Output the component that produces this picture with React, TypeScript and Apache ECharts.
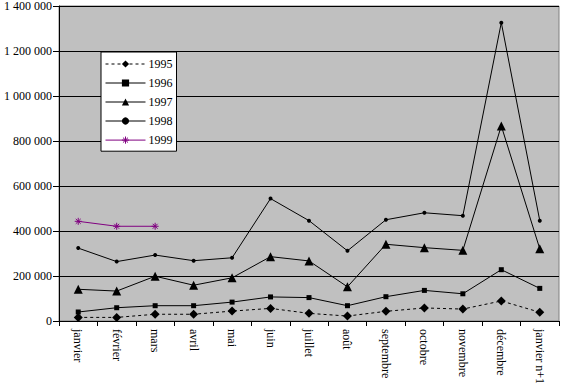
import React, { useEffect, useRef } from "react";
import * as echarts from "echarts";

const months = ["janvier", "février", "mars", "avril", "mai", "juin", "juillet", "août", "septembre", "octobre", "novembre", "décembre", "janvier n+1"];
const s1995 = [16000, 16000, 30000, 30000, 44000, 56000, 34000, 22000, 43000, 58000, 53000, 89000, 39000];
const s1996 = [40000, 59000, 68000, 68000, 84000, 107000, 104000, 68000, 108000, 136000, 121000, 228000, 145000];
const s1997 = [141000, 133000, 199000, 159000, 192000, 286000, 267000, 152000, 341000, 326000, 314000, 867000, 321000];
const s1998 = [324000, 264000, 293000, 268000, 281000, 544000, 446000, 312000, 450000, 481000, 468000, 1326000, 446000];
const s1999 = [443000, 421000, 421000];

const serif = "'Liberation Serif', 'Times New Roman', serif";
const fmt = (v: number) => String(v).replace(/\B(?=(\d{3})+(?!\d))/g, " ");
const asterisk = "path://M5,0 L5,10 M0,5 L10,5 M1.5,1.5 L8.5,8.5 M1.5,8.5 L8.5,1.5";

export default function App() {
  const ref = useRef<HTMLDivElement>(null);
  useEffect(() => {
    if (!ref.current) return;
    const chart = echarts.init(ref.current, undefined, { renderer: "svg" });
    const mk = (name: string, data: number[], symbol: string, size: number, extra: any = {}) => ({
      name,
      type: "line",
      data,
      symbol,
      symbolSize: size,
      showAllSymbol: true,
      lineStyle: { color: "#000", width: 1, ...(extra.lineStyle || {}) },
      itemStyle: { color: "#000", ...(extra.itemStyle || {}) },
      emphasis: { disabled: true },
    });
    chart.setOption({
      animation: false,
      textStyle: { fontFamily: serif },
      grid: {
        left: 59, right: 5, top: 6, bottom: 62,
        outerBoundsMode: "none",
        containLabel: false,
        show: true, backgroundColor: "#C0C0C0", borderColor: "#808080", borderWidth: 1,
      },
      legend: {
        orient: "vertical",
        left: 101, top: 52,
        width: 74,
        padding: [6, 4, 5, 4],
        itemGap: 7,
        itemWidth: 40,
        itemHeight: 9,
        backgroundColor: "#fff",
        borderColor: "#000",
        borderWidth: 1,
        borderRadius: 0,
        lineStyle: { width: 1 },
        textStyle: { fontFamily: serif, fontSize: 12, color: "#000", padding: [0, 0, 0, -2] },
        data: [
          "1995",
          "1996",
          "1997",
          "1998",
          { name: "1999", itemStyle: { color: "none", borderColor: "#800080", borderWidth: 1 } },
        ],
      },
      xAxis: {
        type: "category",
        data: months,
        boundaryGap: true,
        axisLine: { lineStyle: { color: "#000", width: 1 } },
        axisTick: { show: true, length: 5, lineStyle: { color: "#000" } },
        axisLabel: { rotate: -90, color: "#000", fontFamily: serif, fontSize: 12, margin: 8, interval: 0 },
        splitLine: { show: false },
      },
      yAxis: {
        type: "value",
        min: 0, max: 1400000, interval: 200000,
        axisLine: { show: true, lineStyle: { color: "#000", width: 1 } },
        axisTick: { show: true, length: 6, lineStyle: { color: "#000" } },
        axisLabel: { color: "#000", fontFamily: serif, fontSize: 12, margin: 7, formatter: fmt },
        splitLine: { show: true, lineStyle: { color: "#000", width: 1 } },
      },
      series: [
        mk("1995", s1995, "diamond", 9, { lineStyle: { type: [3, 3] } }),
        mk("1996", s1996, "rect", 5),
        mk("1997", s1997, "triangle", 9),
        mk("1998", s1998, "circle", 4),
        {
          ...mk("1999", s1999, asterisk, 7, {
            lineStyle: { color: "#800080" },
            itemStyle: { color: "none", borderColor: "#800080", borderWidth: 1 },
          }),
        },
      ],
    });
    return () => chart.dispose();
  }, []);
  return <div ref={ref} style={{ position: "absolute", left: 0, top: 0, width: 564, height: 383 }} />;
}
